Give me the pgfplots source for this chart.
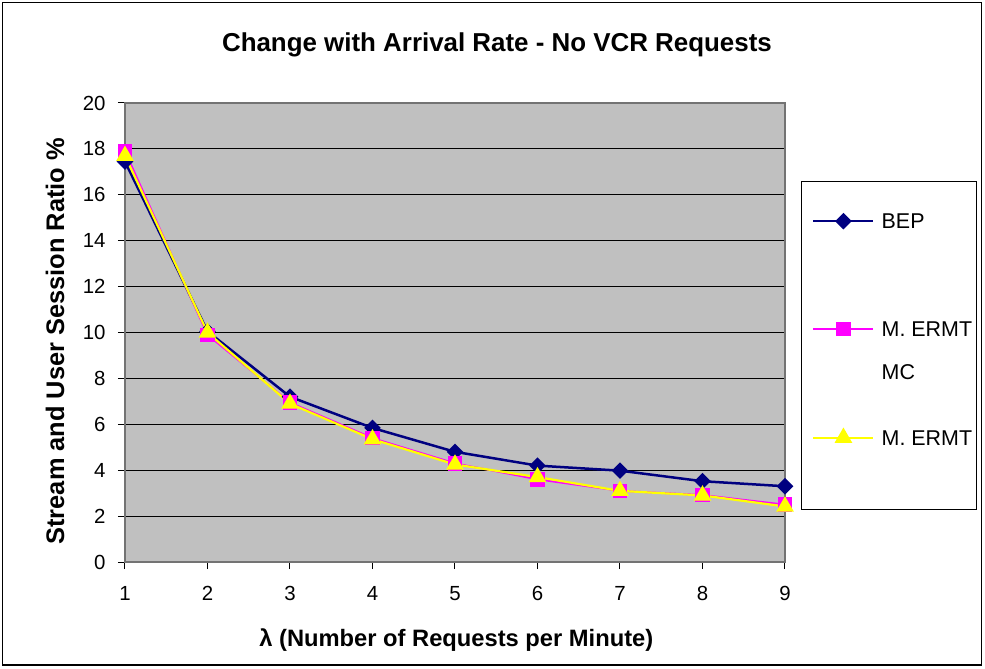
\documentclass[border=0pt]{standalone}
\usepackage{fontspec}
\setmainfont{Liberation Sans}
\usepackage{pgfplots}
\pgfplotsset{compat=1.18}
\definecolor{navyc}{RGB}{0,0,128}
\definecolor{plotgray}{RGB}{192,192,192}
\definecolor{magc}{RGB}{255,0,255}
\definecolor{yelc}{RGB}{255,255,0}
\begin{document}
\begin{tikzpicture}
\useasboundingbox (0bp,0bp) rectangle (985bp,669bp);
\draw[line width=1.5bp] (2.5bp,4bp) rectangle (981.5bp,666.5bp);
\begin{axis}[
  at={(125bp,107bp)}, anchor=south west,
  width=660bp, height=459bp, scale only axis,
  xmin=1, xmax=9, ymin=0, ymax=20,
  xtick={1,...,9}, ytick={0,2,...,20},
  axis background/.style={fill=plotgray},
  ymajorgrids, major grid style={black, line width=1bp},
  axis line style={draw=black!55, line width=1.6bp},
  tick pos=left, tick align=outside, major tick length=7bp,
  tick style={black, line width=1bp},
  /pgf/number format/assume math mode=true,
  ticklabel style={font=\fontsize{20.5}{24}\selectfont},
  yticklabel style={xshift=-9bp},
  xticklabel style={yshift=-14bp},
  title={Change with Arrival Rate - No VCR Requests},
  title style={at={(axis description cs:0.5636,1.114)}, anchor=center, font=\bfseries\fontsize{26}{30}\selectfont},
  xlabel={λ (Number of Requests per Minute)},
  xlabel style={at={(axis description cs:0.502,-0.17)}, anchor=center, font=\bfseries\fontsize{23.8}{28}\selectfont},
  ylabel={Stream and User Session Ratio \%},
  ylabel style={at={(axis description cs:-0.106,0.481)}, anchor=center, font=\bfseries\fontsize{25.5}{29}\selectfont},
  legend cell align=left,
  legend image code/.code={\draw[mark repeat=2,mark phase=2] plot coordinates {(0bp,0bp) (30bp,0bp) (60bp,0bp)};},
  legend style={at={(axis description cs:1.0409,0.7593)}, anchor=north west, draw=none, fill=none,
    inner sep=0bp, row sep=93bp, font=\fontsize{21.5}{25}\selectfont,
    nodes={inner sep=0bp, text height=15bp, text depth=0bp},
    /tikz/every odd column/.append style={column sep=7bp}},
]
\addplot[navyc, line width=2.5bp, mark=square*, mark size=4.6bp, mark options={rotate=45, solid, fill=navyc}]
  coordinates {(1,17.45) (2,10.05) (3,7.2) (4,5.84) (5,4.8) (6,4.2) (7,3.98) (8,3.52) (9,3.3)};
\addlegendentry{BEP}
\addplot[magc, line width=1.8bp, mark=square*, mark size=6.3bp, mark options={solid, fill=magc}]
  coordinates {(1,17.9) (2,9.9) (3,6.95) (4,5.4) (5,4.3) (6,3.6) (7,3.1) (8,2.92) (9,2.5)};
\addlegendentry{\makebox[0pt][l]{\smash{\raisebox{-43bp}{MC}}}M. ERMT}
\addplot[yelc, line width=2.2bp, mark=triangle*, mark size=8bp, mark options={solid, fill=yelc}]
  coordinates {(1,17.7) (2,10.0) (3,6.9) (4,5.35) (5,4.25) (6,3.7) (7,3.1) (8,2.9) (9,2.42)};
\addlegendentry{M. ERMT}
\end{axis}
\draw[line width=1bp] (801bp,159bp) rectangle (976bp,487bp);
\end{tikzpicture}
\end{document}
